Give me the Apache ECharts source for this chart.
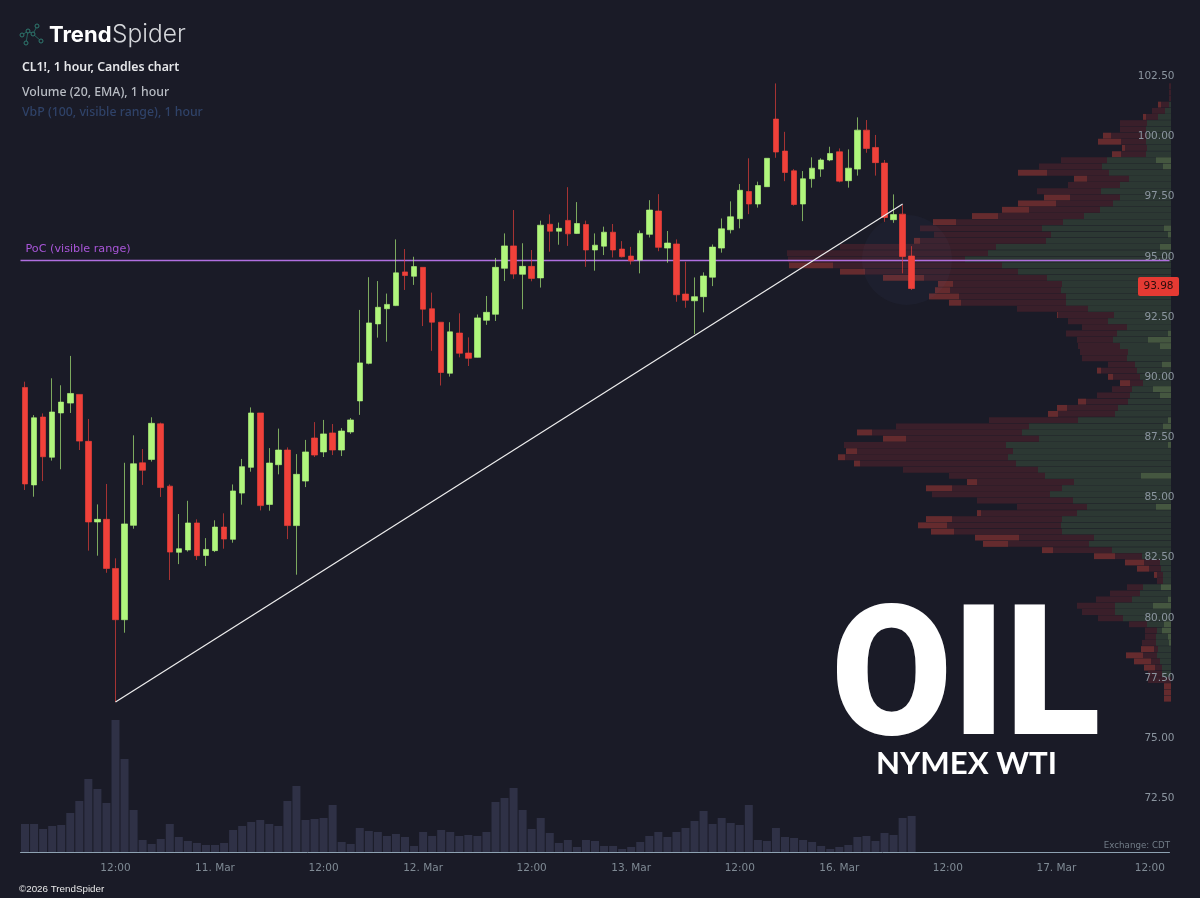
<!DOCTYPE html>
<html><head><meta charset="utf-8">
<style>html,body{margin:0;padding:0;background:#1a1b27}#c{width:1200px;height:898px}</style>
<script src="https://cdn.jsdelivr.net/npm/echarts@6/dist/echarts.min.js"></script>
</head><body><div id="c"></div>
<script>
const tickLabels = {10:'12:00',21:'11. Mar',33:'12:00',44:'12. Mar',56:'12:00',67:'13. Mar',79:'12:00',90:'16. Mar',102:'12:00',114:'17. Mar',126:'12:00'};
const slotCount = 127;
const opens = [89.72,85.67,88.49,86.82,88.66,89.07,89.43,87.48,84.13,84.24,
82.20,80.07,83.99,86.59,86.73,88.21,85.62,82.87,82.97,84.09,
82.74,82.94,83.92,83.41,85.33,86.40,88.66,84.86,86.51,87.12,
83.98,85.83,87.62,87.04,87.83,87.12,87.87,89.16,90.72,92.36,
92.99,93.12,94.52,94.34,94.71,92.99,92.43,90.31,91.98,91.15,
90.97,92.51,92.76,94.67,95.60,94.42,94.75,94.27,96.50,96.21,
96.66,96.12,96.49,95.43,95.59,96.17,95.47,95.18,95.01,96.08,
97.05,95.51,95.68,93.60,93.32,93.49,94.30,95.51,96.27,96.73,
97.86,97.34,98.06,100.87,99.54,98.72,97.34,98.39,98.79,99.17,
99.51,98.31,98.79,100.41,99.69,99.04,96.69,96.92,95.18];
const closes = [85.71,88.46,86.84,88.70,89.11,89.47,87.49,84.13,84.24,82.20,
80.07,84.05,86.55,86.28,88.23,85.56,82.88,83.02,84.09,82.73,
82.99,83.92,83.42,85.42,86.43,88.66,84.81,86.58,87.12,83.98,
86.11,87.04,86.91,87.79,87.12,87.91,88.37,90.74,92.40,93.05,
93.17,94.48,94.37,94.74,92.97,92.43,90.34,92.03,91.14,90.93,
92.61,92.84,94.71,95.60,94.43,94.75,94.25,96.46,96.21,96.33,
96.10,96.53,95.43,95.63,96.17,95.43,95.15,94.98,96.12,97.09,
95.54,95.72,93.57,93.34,93.49,94.35,95.55,96.31,96.81,97.91,
97.34,98.11,99.24,99.50,98.65,97.32,98.39,98.83,99.17,99.44,
98.29,98.83,100.41,99.65,99.06,96.78,96.90,95.16,93.83];
const highs = [89.96,88.57,88.64,90.10,89.81,91.03,89.43,88.41,84.86,85.71,
82.62,86.59,87.73,87.16,88.48,88.26,85.69,84.46,85.01,84.24,
83.46,84.20,84.49,85.69,86.75,88.89,88.66,87.20,88.01,87.23,
86.95,87.54,88.28,88.37,88.20,88.03,88.45,92.94,94.30,94.14,
93.62,95.87,95.47,95.15,94.71,93.66,92.43,92.43,92.80,91.80,
92.75,93.52,95.10,96.12,97.09,95.71,95.43,96.65,96.91,96.57,
98.04,97.42,96.65,96.12,96.40,96.51,95.80,95.56,96.24,97.50,
97.75,96.22,95.87,94.94,94.29,94.50,95.66,96.74,97.45,98.17,
99.24,98.27,99.24,102.35,100.34,98.79,98.71,99.28,99.24,99.72,
99.65,99.61,100.94,100.83,100.21,99.17,97.74,97.30,95.59];
const lows = [85.46,85.18,85.83,86.68,86.32,88.66,87.12,82.94,82.73,82.02,
76.65,79.53,83.85,85.67,86.64,85.17,81.72,82.38,82.90,82.55,
82.30,82.88,83.02,83.27,84.85,86.22,84.61,84.60,86.11,83.42,
81.94,85.58,86.83,86.83,86.91,86.87,87.79,88.58,90.68,91.79,
91.62,93.10,93.77,93.98,92.27,91.24,89.80,90.17,90.97,90.61,
90.96,92.32,92.48,94.14,94.23,92.97,94.13,93.87,95.36,95.65,
95.60,96.10,94.73,94.57,95.22,95.12,95.12,94.83,94.46,95.95,
95.38,94.90,93.28,93.03,91.94,92.84,93.93,95.32,96.12,96.33,
96.92,97.19,98.05,99.26,98.29,97.27,96.63,98.02,98.47,99.12,
98.24,98.02,98.52,99.47,98.52,96.60,96.56,94.46,93.77];
const volumes = [28,28,23,26,27,39,51,73,63,49,132,93,42,12,8,13,28,15,11,9,
7,7,9,22,26,30,32,28,26,51,66,32,33,34,47,10,8,24,21,20,
16,18,15,6,20,16,22,20,16,17,16,20,50,54,64,42,23,34,19,9,
12,5,12,11,6,6,3,5,10,16,20,15,20,24,31,41,28,34,29,27,
47,12,11,24,15,14,12,10,6,3,5,7,15,16,11,19,17,34,36];
const profilePrices = [102.24,101.98,101.73,101.47,101.21,100.96,100.70,100.44,100.18,99.93,
99.67,99.41,99.16,98.90,98.64,98.39,98.13,97.87,97.61,97.36,
97.10,96.84,96.59,96.33,96.07,95.81,95.56,95.30,95.04,94.79,
94.53,94.27,94.02,93.76,93.50,93.24,92.99,92.73,92.47,92.22,
91.96,91.70,91.44,91.19,90.93,90.67,90.42,90.16,89.90,89.65,
89.39,89.13,88.87,88.62,88.36,88.10,87.85,87.59,87.33,87.07,
86.82,86.56,86.30,86.05,85.79,85.53,85.28,85.02,84.76,84.50,
84.25,83.99,83.73,83.48,83.22,82.96,82.71,82.45,82.19,81.93,
81.68,81.42,81.16,80.91,80.65,80.39,80.13,79.88,79.62,79.36,
79.11,78.85,78.59,78.34,78.08,77.82,77.56,77.31,77.05,76.79];
const profileTotal = [2,2,2,13,19,28,51,51,68,73,
49,59,110,132,153,97,103,134,127,153,
169,199,238,251,237,257,331,384,383,382,
331,288,233,236,242,222,154,114,103,89,
105,94,93,91,89,63,74,63,51,59,
74,93,114,123,182,275,314,288,327,325,
333,317,268,222,204,245,239,194,154,194,
245,253,240,196,188,129,77,46,34,17,
14,44,61,75,94,89,73,42,26,26,
29,30,45,37,27,23,23,7,7,7];
const profileRedHi = [0,0,0,3,0,3,0,0,8,23,
3,9,0,0,29,13,0,0,26,38,
27,26,23,0,0,6,0,0,0,44,
25,41,15,15,30,12,0,1,0,0,
0,0,0,0,0,0,4,5,10,0,
0,8,10,10,0,0,15,23,0,11,
7,6,0,0,10,26,0,0,0,4,
26,29,23,44,25,11,21,19,12,3,
0,0,0,0,0,0,0,0,0,0,
0,13,17,17,11,0,0,7,7,7];
const profileGreen = [0,0,0,2,6,13,24,25,24,25,
24,25,64,69,62,42,51,70,51,58,
71,87,108,129,120,125,175,183,206,169,
153,124,109,110,105,105,83,57,63,44,
54,58,51,43,44,36,34,31,28,39,
41,43,53,56,93,142,149,132,165,158,
163,155,133,126,97,109,121,98,84,94,
109,110,109,77,82,59,29,11,10,8,
8,28,31,39,56,56,48,24,14,15,
15,13,14,11,9,9,0,0,0,0];
const profileGreenHi = [0,0,0,0,0,0,0,0,0,0,
0,0,15,8,0,0,0,0,0,0,
0,0,0,7,3,0,11,0,0,0,
0,0,0,0,0,0,0,0,0,0,
3,23,11,0,0,9,0,0,0,18,
11,0,0,0,3,8,0,0,3,0,
0,0,0,30,0,0,0,0,15,0,
0,0,0,0,0,0,0,0,0,0,
0,10,0,3,18,0,0,7,9,3,
2,0,0,0,0,0,0,0,0,0];
const pocPrice = 95;
const lastPrice = 93.98;
const trendStart = [10, 76.65];
const trendEnd = [97, 97.34];

const BG='#1a1b27', UP='#b0f67c', DOWN='#f0413a';
const GRID={left:20.5,width:1149};
const PRICE_TOP=19.65, PRICE_H=842.45;
const slots = Array.from({length:slotCount},(_,i)=>String(i));
const isTick=(i)=>tickLabels[i]!==undefined;
const sans='"DejaVu Sans"';

const candleData = opens.map((o,i)=>[o,closes[i],lows[i],highs[i]]);
const profileData = profilePrices.map((p,i)=>[p,profileGreenHi[i],profileGreen[i],profileTotal[i]-profileRedHi[i],profileTotal[i]]);
const PROF=['#455740','#2c3833','#3a1f2a','#652b2e'];

function renderProfile(params,api){
  const p=api.value(0), ends=[api.value(1),api.value(2),api.value(3),api.value(4)];
  const h=5.9, kids=[]; let prev=0;
  ends.forEach((e,k)=>{
    if(e>prev){
      const a=api.coord([prev,p]), b=api.coord([e,p]);
      kids.push({type:'rect',shape:{x:b[0],y:a[1]-h/2,width:a[0]-b[0],height:h},style:{fill:PROF[k]}});
      prev=e;
    }
  });
  return {type:'group',children:kids};
}

function txt(x,y,text,font,fill){
  return {type:'text',x,y,silent:true,z:10,style:{text,font,fill,textVerticalAlign:'middle'}};
}
const logoNodes=[[22,35],[28,31],[37,26],[33,34],[26,43],[41,41]];
const logoEdges=[[0,1],[1,3],[3,2],[3,5],[1,4]];

const chart=echarts.init(document.getElementById('c'),null,{renderer:'canvas'});
chart.setOption({
  animation:false,backgroundColor:BG,
  grid:[
    {left:GRID.left,width:GRID.width,top:PRICE_TOP,height:PRICE_H},
    {left:GRID.left,width:GRID.width,top:652,height:200},
    {left:GRID.left,width:1150.5,top:PRICE_TOP,height:PRICE_H}
  ],
  xAxis:[
    {type:'category',gridIndex:0,data:slots,show:false},
    {type:'category',gridIndex:1,data:slots,
      axisLine:{lineStyle:{color:'#8ea2b2',width:1}},
      axisTick:{alignWithLabel:true,length:8,interval:(i)=>isTick(i),lineStyle:{color:'#8ea2b2'}},
      axisLabel:{interval:(i)=>isTick(i),formatter:(v,i)=>tickLabels[i]||'',color:'#7f8a94',fontFamily:sans,fontSize:10.5,margin:11,alignMaxLabel:'right'}},
    {type:'value',gridIndex:2,min:0,max:1150.5,inverse:true,show:false}
  ],
  yAxis:[
    {type:'value',gridIndex:0,position:'right',offset:5,min:70,max:105,interval:2.5,z:20,
      axisLine:{show:false},axisTick:{show:false},splitLine:{show:false},
      axisLabel:{inside:true,margin:0,color:'#8b959f',fontFamily:sans,fontSize:10.5,verticalAlign:'bottom',lineHeight:7,
        formatter:(v)=>(v<72||v>103)?'':v.toFixed(2)}},
    {type:'value',gridIndex:1,min:0,max:200,show:false},
    {type:'value',gridIndex:2,min:70,max:105,show:false}
  ],
  series:[
    {type:'custom',name:'VbP',xAxisIndex:2,yAxisIndex:2,z:2,renderItem:renderProfile,clip:false,
      encode:{x:[1,2,3,4],y:0},data:profileData},
    {type:'bar',name:'Volume',xAxisIndex:1,yAxisIndex:1,z:2,data:volumes,barWidth:8,
      itemStyle:{color:'#2f3146'}},
    {type:'candlestick',name:'CL1!',xAxisIndex:0,yAxisIndex:0,z:5,data:candleData,barWidth:6,
      itemStyle:{color:UP,color0:DOWN,borderColor:'rgba(176,246,124,0.65)',borderColor0:'rgba(240,65,58,0.65)',borderWidth:1}},
    {type:'line',name:'Trend',xAxisIndex:0,yAxisIndex:0,z:6,data:[trendStart,trendEnd],symbol:'none',
      lineStyle:{color:'#eeeeee',width:1.2}},
    {type:'line',name:'PoC',xAxisIndex:0,yAxisIndex:0,z:6,data:[],
      markLine:{silent:true,symbol:'none',animation:false,
        lineStyle:{color:'#b06fe0',width:1.3,type:'solid'},
        label:{show:true,position:'insideStartTop',formatter:'PoC (visible range)',color:'#a855d8',fontFamily:sans,fontSize:11.2,distance:[5,6]},
        data:[{yAxis:pocPrice}]}}
  ],
  graphic:[
    {type:'circle',shape:{cx:907,cy:260,r:45},silent:true,z:3,style:{fill:'rgba(90,125,180,0.05)'}},
    ...logoEdges.map(([a,b])=>({type:'line',silent:true,z:10,shape:{x1:logoNodes[a][0],y1:logoNodes[a][1],x2:logoNodes[b][0],y2:logoNodes[b][1]},style:{stroke:'#24615c',lineWidth:1}})),
    ...logoNodes.map(([x,y])=>({type:'circle',silent:true,z:10,shape:{cx:x,cy:y,r:2},style:{fill:BG,stroke:'#2f7a70',lineWidth:1}})),
    txt(49,35,'Trend','700 22px Inter','#ffffff'),
    txt(112,35,'Spider','300 24.5px Inter','#d4d6da'),
    txt(22,67,'CL1!, 1 hour, Candles chart','600 12.3px "Noto Sans"','#e6e7ea'),
    txt(22,92,'Volume (20, EMA), 1 hour','500 12.3px "Noto Sans"','#b9bdc4'),
    txt(22,112,'VbP (100, visible range), 1 hour','500 12.3px "Noto Sans"','#2f4268'),
    txt(19,889,'©2026 TrendSpider','9.8px "Liberation Sans"','#e8e8e8'),
    {type:'text',silent:true,z:10,x:1170,y:846,style:{text:'Exchange: CDT',font:'8.7px "DejaVu Sans"',fill:'#727d88',textAlign:'right',textVerticalAlign:'middle'}},
    {type:'rect',silent:true,z:21,shape:{x:1138,y:277,width:41,height:19,r:2},style:{fill:'#e53a33'}},
    {type:'text',silent:true,z:22,x:1158.5,y:286.5,style:{text:lastPrice.toFixed(2),font:'10.5px "DejaVu Sans"',fill:'#2a0d0c',textAlign:'center',textVerticalAlign:'middle'}},
    {type:'text',silent:true,z:12,x:831,y:689,scaleX:0.97,style:{text:'OIL',font:'900 181px Roboto',fill:'#ffffff',textAlign:'left',textVerticalAlign:'middle'}},
    {type:'text',silent:true,z:12,x:966.5,y:764,scaleX:1.04,style:{text:'NYMEX WTI',font:'700 30px Lato',fill:'#ffffff',textAlign:'center',textVerticalAlign:'middle'}}
  ]
});
</script></body></html>
